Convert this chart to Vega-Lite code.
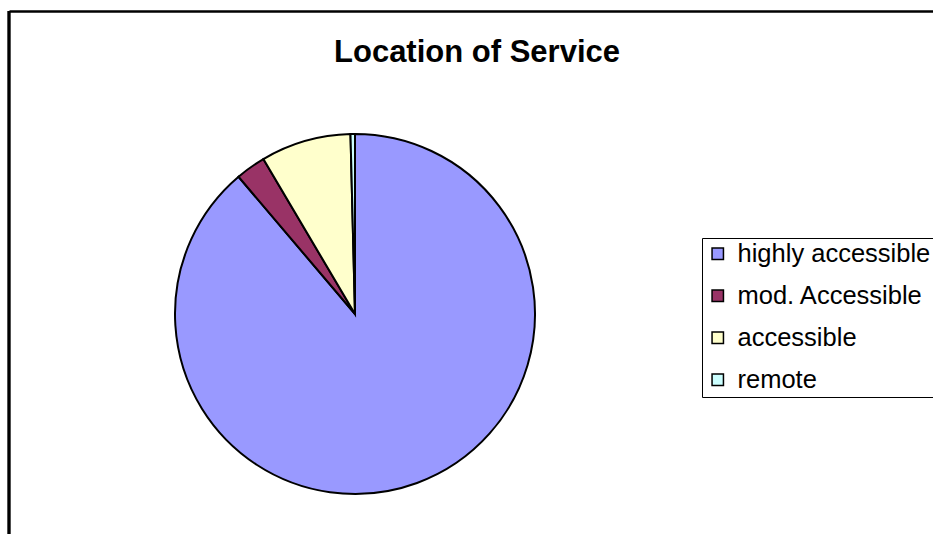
{
  "$schema": "https://vega.github.io/schema/vega-lite/v6.json",
  "width": 692,
  "height": 606,
  "padding": {"left": 7, "top": 9, "right": 0, "bottom": 0},
  "background": "white",
  "title": {
    "text": "Location of Service",
    "font": "Liberation Sans",
    "fontSize": 31,
    "fontWeight": "bold",
    "color": "black",
    "anchor": "middle",
    "offset": -59,
    "dx": 122
  },
  "data": {
    "values": [
      {"location": "highly accessible", "share": 88.8},
      {"location": "mod. Accessible", "share": 2.7},
      {"location": "accessible", "share": 8.1},
      {"location": "remote", "share": 0.4}
    ]
  },
  "transform": [
    {"calculate": "indexof(['highly accessible', 'mod. Accessible', 'accessible', 'remote'], datum.location)", "as": "slice_order"}
  ],
  "layer": [
    {
      "mark": {"type": "rule", "color": "black", "strokeWidth": 2.5},
      "encoding": {
        "x": {
          "datum": 0,
          "type": "quantitative",
          "scale": {"domain": [0, 1], "range": [0, 930]},
          "axis": {
            "orient": "top",
            "domain": true,
            "domainColor": "black",
            "domainWidth": 2.5,
            "ticks": false,
            "labels": false,
            "grid": false,
            "title": null
          }
        }
      }
    },
    {
      "mark": {"type": "arc", "radius": 180, "stroke": "black", "strokeWidth": 2},
      "encoding": {
        "theta": {"field": "share", "type": "quantitative", "stack": true},
        "order": {"field": "slice_order", "type": "quantitative", "sort": "ascending"},
        "color": {
          "field": "location",
          "type": "nominal",
          "sort": ["highly accessible", "mod. Accessible", "accessible", "remote"],
          "scale": {
            "domain": ["highly accessible", "mod. Accessible", "accessible", "remote"],
            "range": ["#9999FF", "#993366", "#FFFFCC", "#CCFFFF"]
          },
          "legend": {
            "orient": "none",
            "legendX": 693,
            "legendY": 227,
            "title": null,
            "strokeColor": "black",
            "padding": 3,
            "symbolType": "square",
            "symbolSize": 130,
            "symbolStrokeColor": "black",
            "symbolStrokeWidth": 1.5,
            "symbolOpacity": 1,
            "labelFont": "Liberation Sans",
            "labelFontSize": 25.5,
            "labelColor": "black",
            "labelOffset": 7,
            "labelLimit": 400,
            "rowPadding": 15
          }
        }
      }
    }
  ],
  "config": {
    "view": {"stroke": null}
  }
}
